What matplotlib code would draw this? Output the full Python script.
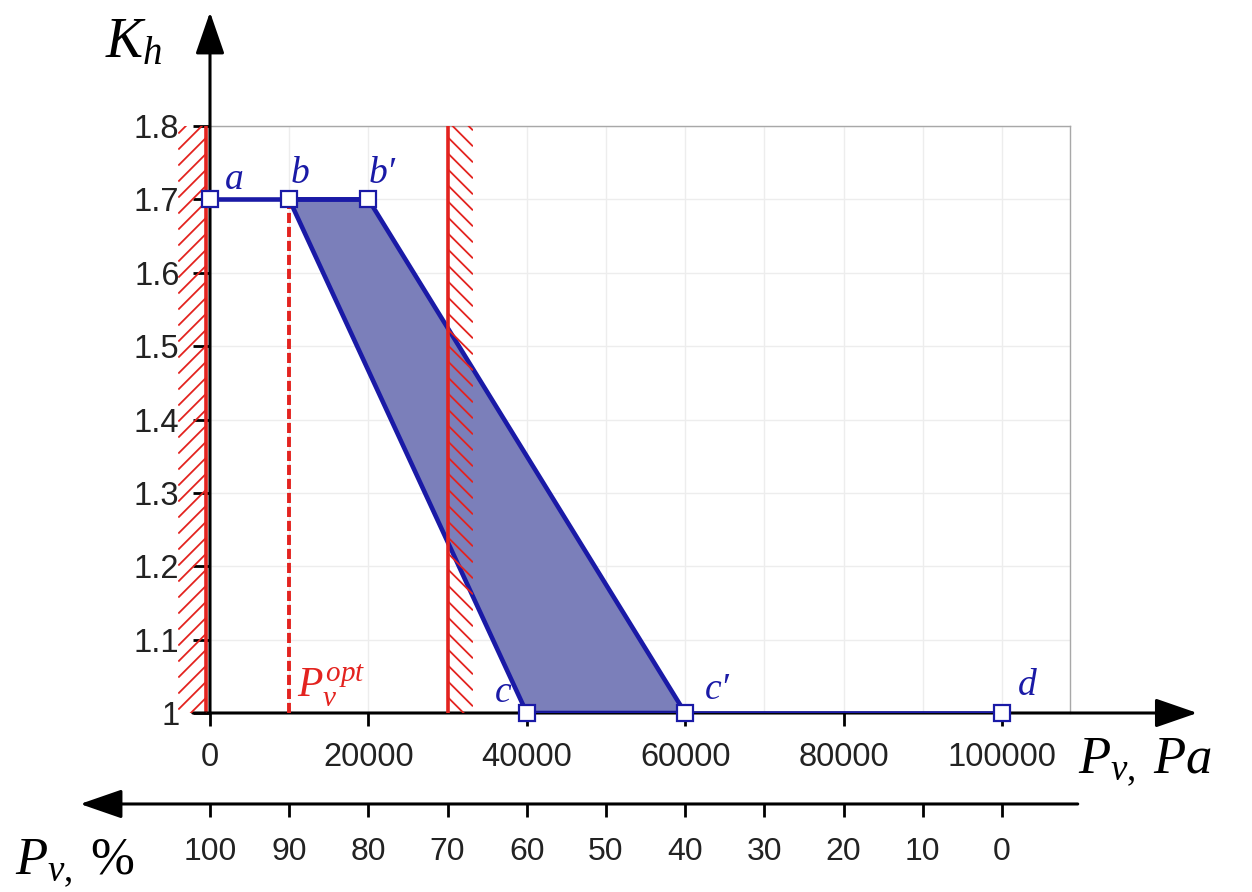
"""K_h versus P_v diagram with the feasible region and pressure limits."""

import matplotlib.pyplot as plt
import matplotlib.transforms as mtransforms
import numpy as np
from matplotlib.collections import LineCollection
from matplotlib.patches import Polygon, Rectangle
from matplotlib.ticker import MultipleLocator

# characteristic points of the K_h(P_v) curve
point_names = ["a", "b", "b\u2032", "c", "c\u2032", "d"]
pv_pa = [0, 10000, 20000, 40000, 60000, 100000]
kh = [1.7, 1.7, 1.7, 1.0, 1.0, 1.0]
label_offsets = [(24, 20), (11, 26), (14, 26), (-24, 20), (32, 23), (25, 27)]

pv_opt = 10000
pv_low_limit = 0
pv_high_limit = 30000

x_ticks = [0, 20000, 40000, 60000, 80000, 100000]
y_ticks = [1.0, 1.1, 1.2, 1.3, 1.4, 1.5, 1.6, 1.7, 1.8]
y_tick_labels = ["1", "1.1", "1.2", "1.3", "1.4", "1.5", "1.6", "1.7", "1.8"]
pct_ticks = [100, 90, 80, 70, 60, 50, 40, 30, 20, 10, 0]

BLUE = "#1a1aa6"
FILL = "#7b7fba"
RED = "#e3231f"

plt.rcParams["font.family"] = ["Liberation Sans", "DejaVu Sans"]
plt.rcParams["mathtext.fontset"] = "custom"
plt.rcParams["mathtext.it"] = "Liberation Serif:italic"
plt.rcParams["mathtext.rm"] = "Liberation Serif"
plt.rcParams["mathtext.bf"] = "Liberation Serif:bold"
SERIF = ["Liberation Serif", "DejaVu Serif"]


def hatch_band(ax, x0, x1, direction, color, step_px=16):
    """Diagonal 45-degree strokes between x0 and x1, clipped to the band."""
    fig = ax.figure
    pos = ax.get_position()
    xmin, xmax = ax.get_xlim()
    ymin, ymax = ax.get_ylim()
    ppx = fig.get_figwidth() * fig.dpi * pos.width / (xmax - xmin)
    ppy = fig.get_figheight() * fig.dpi * pos.height / (ymax - ymin)
    rise = abs(x1 - x0) * ppx / ppy
    step = step_px / ppy
    starts = np.arange(ymin - rise, ymax + step, step)
    if direction == "/":
        segs = [[(x0, s), (x1, s + rise)] for s in starts]
    else:
        segs = [[(x0, s + rise), (x1, s)] for s in starts]
    lc = LineCollection(segs, colors=color, linewidths=1.3, zorder=2.7)
    ax.add_collection(lc, autolim=False)
    clip = Rectangle((min(x0, x1), ymin), abs(x1 - x0), ymax - ymin,
                     transform=ax.transData)
    lc.set_clip_path(clip)


fig = plt.figure(figsize=(12.52, 8.92), dpi=100)
W, H = 1252, 892
ax = fig.add_axes([210 / W, (H - 713) / H, 860 / W, 587 / H])
ax.set_xlim(0, 108586)
ax.set_ylim(1.0, 1.8)

# frame and grid
for side in ("left", "bottom"):
    ax.spines[side].set_visible(False)
for side in ("top", "right"):
    ax.spines[side].set_color("#a8a8a8")
    ax.spines[side].set_linewidth(1.0)
ax.xaxis.set_minor_locator(MultipleLocator(10000))
ax.grid(which="both", color="#ededed", linewidth=1.0, zorder=0)
ax.set_axisbelow(True)

ax.set_xticks(x_ticks)
ax.set_xticklabels([str(v) for v in x_ticks])
ax.set_yticks(y_ticks)
ax.set_yticklabels(y_tick_labels)
ax.tick_params(axis="x", which="major", length=9, width=2, pad=12,
               labelsize=23.5, labelcolor="#222222")
ax.tick_params(axis="x", which="minor", length=0)
ax.tick_params(axis="y", length=12, width=2, pad=10,
               labelsize=23.5, labelcolor="#222222")

# axis arrows
arrow_kw = dict(arrowstyle="-|>,head_length=1.3,head_width=0.45",
                lw=2.2, color="black", mutation_scale=20,
                shrinkA=0, shrinkB=0)
ax.annotate("", xy=(0, 1.194), xytext=(0, 0), xycoords="axes fraction",
            arrowprops=arrow_kw, zorder=2.6)
ax.annotate("", xy=(1.148, 0), xytext=(-0.02, 0), xycoords="axes fraction",
            arrowprops=arrow_kw, zorder=2.6)
ax.annotate("", xy=(-0.151, -0.155), xytext=(1.009, -0.155),
            xycoords="axes fraction", arrowprops=arrow_kw, zorder=2.6)

# second scale in percent of atmospheric pressure
secax = ax.secondary_xaxis(-0.155, functions=(lambda x: 100 - x / 1000,
                                              lambda p: (100 - p) * 1000))
secax.set_xticks(pct_ticks)
secax.set_xticklabels([str(v) for v in pct_ticks])
secax.spines["bottom"].set_visible(False)
secax.tick_params(axis="x", length=9, width=2, pad=15,
                  labelsize=23, labelcolor="#222222")
secax.xaxis.set_minor_locator(plt.NullLocator())

# pressure limits with hatching on the forbidden side
shift_left = mtransforms.ScaledTranslation(-4 / 100, 0, fig.dpi_scale_trans)
ax.plot([pv_low_limit, pv_low_limit], [1.0, 1.8], color=RED, lw=2.6,
        transform=ax.transData + shift_left, clip_on=False, zorder=2.4,
        solid_capstyle="butt")
hatch_band(ax, pv_low_limit - 4000, pv_low_limit - 400, "/", RED)
ax.plot([pv_high_limit, pv_high_limit], [1.0, 1.8], color=RED, lw=2.6,
        zorder=3, solid_capstyle="butt")
hatch_band(ax, pv_high_limit, pv_high_limit + 3200, "\\", RED)

ax.plot([pv_opt, pv_opt], [1.0, kh[1]], color=RED, lw=2.8,
        dashes=(2.6, 1.0), zorder=3)
ax.annotate(r"$P_v^{opt}$", xy=(pv_opt, 1.0), xytext=(8, 4),
            textcoords="offset pixels", color=RED, fontsize=30,
            ha="left", va="bottom", zorder=5)

# feasible region b-b'-c'-c
region = Polygon([(pv_pa[i], kh[i]) for i in (1, 2, 4, 3)], closed=True,
                 facecolor=FILL, edgecolor=BLUE, lw=3.3, zorder=2.5,
                 joinstyle="round")
ax.add_patch(region)
ax.plot(pv_pa[0:3], kh[0:3], color=BLUE, lw=3.3, zorder=4,
        solid_capstyle="butt")
ax.plot(pv_pa[3:6], kh[3:6], color=BLUE, lw=3.3, zorder=4,
        solid_capstyle="butt")
ax.plot(pv_pa, kh, "s", ms=11, mfc="white", mec=BLUE, mew=1.6,
        zorder=6, clip_on=False)

for name, x, y, (dx, dy) in zip(point_names, pv_pa, kh, label_offsets):
    ax.annotate(name, xy=(x, y), xytext=(dx, dy), textcoords="offset pixels",
                ha="center", va="center", color=BLUE, fontsize=27,
                family=SERIF, style="italic", zorder=7)

# axis titles
fig.text(105 / W, 1 - 57 / H, r"$K_h$", fontsize=40, va="baseline")
fig.text(1078 / W, 1 - 773 / H, r"$P_{v,}\;Pa$", fontsize=38, va="baseline")
fig.text(15 / W, 1 - 874 / H, r"$P_{v,}\;\mathit{\%}$", fontsize=38,
         va="baseline")

fig.savefig("out.png", dpi=100)
